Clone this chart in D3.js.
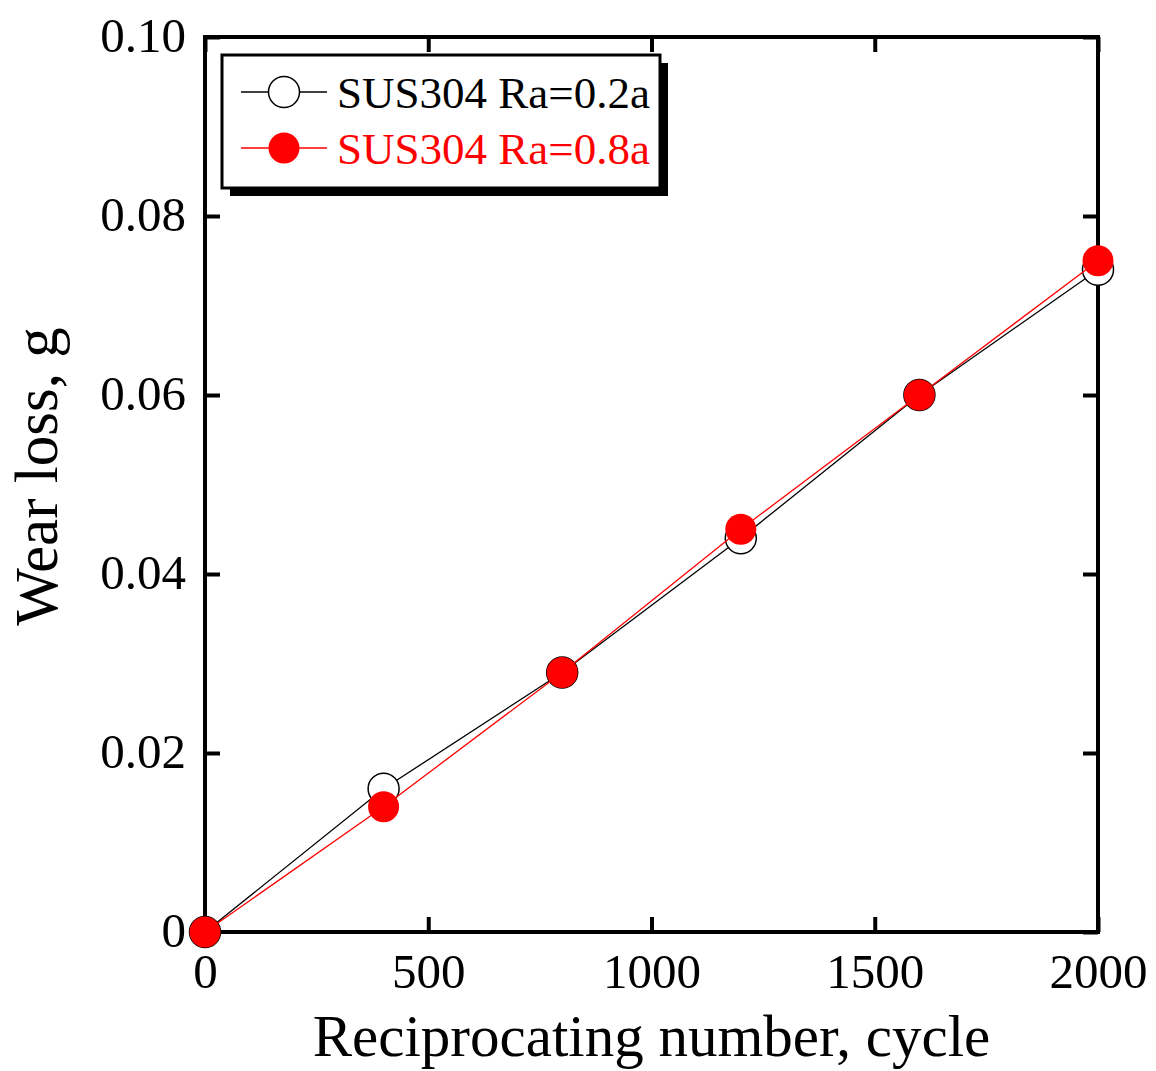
<!DOCTYPE html>
<html>
<head>
<meta charset="utf-8">
<script src="https://cdn.jsdelivr.net/npm/d3@7"></script>
<style>
  body { margin: 0; background: #fff; }
  text { font-family: "Liberation Serif", "Times New Roman", serif; }
</style>
</head>
<body>
<div id="chart"></div>
<script>
const cycles = [0, 400, 800, 1200, 1600, 2000];
const wearRa02 = [0, 0.016, 0.029, 0.044, 0.060, 0.074];
const wearRa08 = [0, 0.014, 0.029, 0.045, 0.060, 0.075];
const xTicks = [0, 500, 1000, 1500, 2000];
const yTicks = [0, 0.02, 0.04, 0.06, 0.08, 0.10];
const yTickLabels = ["0", "0.02", "0.04", "0.06", "0.08", "0.10"];
const seriesNames = ["SUS304 Ra=0.2a", "SUS304 Ra=0.8a"];

const width = 1156, height = 1071;
const margin = { left: 205, right: 58, top: 37, bottom: 139 };

const svg = d3.select("#chart")
  .append("svg")
  .attr("width", width)
  .attr("height", height);

const x = d3.scaleLinear().domain([0, 2000]).range([margin.left, width - margin.right]);
const y = d3.scaleLinear().domain([0, 0.1]).range([height - margin.bottom, margin.top]);

const tickLen = 15;
const axisG = svg.append("g");

// inward ticks on all four sides
const xAxisBottom = axisG.append("g")
  .attr("transform", `translate(0,${y(0)})`)
  .call(d3.axisBottom(x).tickValues(xTicks).tickSize(-tickLen).tickPadding(21).tickFormat(d3.format("d")));
axisG.append("g")
  .attr("transform", `translate(0,${y(0.1)})`)
  .call(d3.axisTop(x).tickValues(xTicks).tickSize(-tickLen).tickFormat(""));
const yAxisLeft = axisG.append("g")
  .attr("transform", `translate(${x(0)},0)`)
  .call(d3.axisLeft(y).tickValues(yTicks).tickSize(-tickLen).tickPadding(19)
    .tickFormat((d, i) => yTickLabels[i]));
axisG.append("g")
  .attr("transform", `translate(${x(2000)},0)`)
  .call(d3.axisRight(y).tickValues(yTicks).tickSize(-tickLen).tickFormat(""));

axisG.selectAll(".domain").remove();
axisG.selectAll(".tick line").attr("stroke", "#000").attr("stroke-width", 4);
axisG.selectAll(".tick text")
  .attr("fill", "#000")
  .style("font-size", "49px")
  .style("font-family", "'Liberation Serif', serif");
xAxisBottom.selectAll(".tick text").attr("dy", "0.71em");
yAxisLeft.selectAll(".tick text").attr("dy", "0.3em");

// frame
svg.append("rect")
  .attr("x", x(0))
  .attr("y", y(0.1))
  .attr("width", x(2000) - x(0))
  .attr("height", y(0) - y(0.1))
  .attr("fill", "none")
  .attr("stroke", "#000")
  .attr("stroke-width", 4);

const line = d3.line()
  .x((d, i) => x(cycles[i]))
  .y(d => y(d));

const markerR = 15.5;

svg.append("path")
  .datum(wearRa02)
  .attr("d", line)
  .attr("fill", "none")
  .attr("stroke", "#000")
  .attr("stroke-width", 1.3);

svg.append("g")
  .selectAll("circle")
  .data(wearRa02)
  .enter()
  .append("circle")
  .attr("cx", (d, i) => x(cycles[i]))
  .attr("cy", d => y(d))
  .attr("r", markerR)
  .attr("fill", "#fff")
  .attr("stroke", "#000")
  .attr("stroke-width", 1.5);

svg.append("path")
  .datum(wearRa08)
  .attr("d", line)
  .attr("fill", "none")
  .attr("stroke", "#ff0000")
  .attr("stroke-width", 1.3);

svg.append("g")
  .selectAll("circle")
  .data(wearRa08)
  .enter()
  .append("circle")
  .attr("cx", (d, i) => x(cycles[i]))
  .attr("cy", d => y(d))
  .attr("r", markerR)
  .attr("fill", "#ff0000");

// axis titles
svg.append("text")
  .attr("x", (x(0) + x(2000)) / 2)
  .attr("y", 1056)
  .attr("text-anchor", "middle")
  .style("font-size", "59px")
  .attr("fill", "#000")
  .text("Reciprocating number, cycle");

svg.append("text")
  .attr("transform", `translate(57,${(y(0) + y(0.1)) / 2 - 8}) rotate(-90)`)
  .attr("text-anchor", "middle")
  .style("font-size", "61px")
  .attr("fill", "#000")
  .text("Wear loss, g");

// legend
const legend = svg.append("g");
const lx = 222, ly = 55, lw = 438, lh = 133;
legend.append("rect")
  .attr("x", lx + 8).attr("y", ly + 8)
  .attr("width", lw).attr("height", lh)
  .attr("fill", "#000");
legend.append("rect")
  .attr("x", lx).attr("y", ly)
  .attr("width", lw).attr("height", lh)
  .attr("fill", "#fff")
  .attr("stroke", "#000")
  .attr("stroke-width", 3);

const legendColors = ["#000", "#ff0000"];
const legendRows = legend.selectAll(".row")
  .data(seriesNames)
  .enter()
  .append("g")
  .attr("class", "row")
  .attr("transform", (d, i) => `translate(0,${92 + i * 56})`);

legendRows.append("line")
  .attr("x1", 241).attr("x2", 327)
  .attr("stroke", (d, i) => legendColors[i])
  .attr("stroke-width", 1.3);
legendRows.append("circle")
  .attr("cx", 284)
  .attr("r", markerR)
  .attr("fill", (d, i) => i === 0 ? "#fff" : "#ff0000")
  .attr("stroke", (d, i) => i === 0 ? "#000" : "none")
  .attr("stroke-width", 1.5);
legendRows.append("text")
  .attr("x", 337)
  .attr("dy", "0.35em")
  .style("font-size", "45px")
  .attr("fill", (d, i) => legendColors[i])
  .text(d => d);
</script>
</body>
</html>
